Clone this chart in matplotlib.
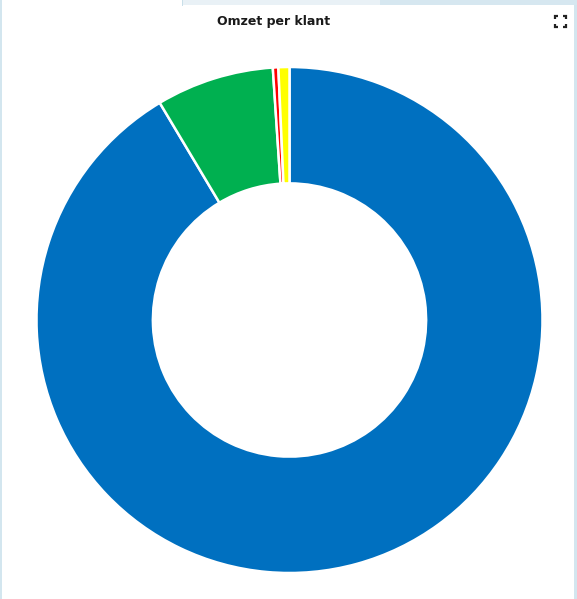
import matplotlib.pyplot as plt
from matplotlib.patches import Rectangle
from matplotlib.lines import Line2D

# omzet-aandeel per klant (geschat uit de grafiek, in %)
klanten = ["Klant A", "Klant B", "Klant C", "Klant D"]
omzet = [91.2, 7.5, 0.35, 0.7]
kleuren = ["#0070C0", "#00B050", "#FF0000", "#FFFF00"]

W, H = 577, 599
fig = plt.figure(figsize=(W / 100, H / 100), dpi=100)
fig.patch.set_facecolor("white")

# kader van het dashboard-paneel
rand = "#d3e6ef"
fig.add_artist(Rectangle((0, 0), 2 / W, 1, transform=fig.transFigure, color=rand, lw=0))
fig.add_artist(Rectangle((1 - 3 / W, 0), 3 / W, 1, transform=fig.transFigure, color=rand, lw=0))
fig.add_artist(Rectangle((183 / W, 1 - 5 / H), (380 - 183) / W, 5 / H,
                         transform=fig.transFigure, color="#e9f1f6", lw=0))
fig.add_artist(Rectangle((380 / W, 1 - 5 / H), (W - 380) / W, 5 / H,
                         transform=fig.transFigure, color="#d6e7f0", lw=0))
fig.add_artist(Rectangle((182 / W, 1 - 6 / H), 1 / W, 6 / H,
                         transform=fig.transFigure, color="#c9dfe9", lw=0))

fig.text(274 / W, 1 - 22 / H, "Omzet per klant", ha="center", va="center",
         fontsize=9, fontweight="bold", family="DejaVu Sans", color="#1a1a1a")

# uitvouw-icoon rechtsboven
def px(x, y):
    return x / W, 1 - y / H

x0, y0, x1, y1, d = 555, 16, 566, 27, 3
for (cx, cy, sx, sy) in [(x0, y0, 1, 1), (x1, y0, -1, 1), (x0, y1, 1, -1), (x1, y1, -1, -1)]:
    xs = [cx + sx * d, cx, cx]
    ys = [cy, cy, cy + sy * d]
    pts = [px(a, b) for a, b in zip(xs, ys)]
    fig.add_artist(Line2D([p[0] for p in pts], [p[1] for p in pts],
                          transform=fig.transFigure, color="#222222", lw=1.6,
                          solid_capstyle="butt", solid_joinstyle="miter"))

# donut
cx, cy, r = 289.5, 320, 253
ax = fig.add_axes([(cx - r) / W, (H - cy - r) / H, 2 * r / W, 2 * r / H])
ax.pie(omzet, colors=kleuren, startangle=90, counterclock=False, radius=1,
       wedgeprops=dict(width=0.46, edgecolor="white", linewidth=1.8))
ax.set_xlim(-1, 1)
ax.set_ylim(-1, 1)
ax.set_aspect("equal")
ax.axis("off")

fig.savefig("out.png", dpi=100)
